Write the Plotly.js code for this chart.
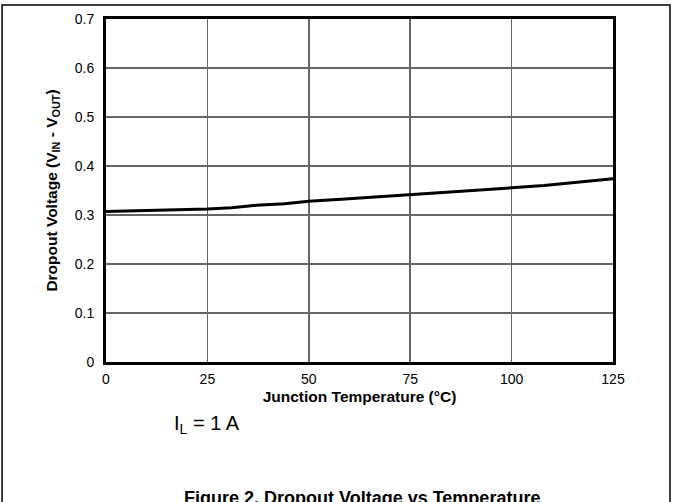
<!DOCTYPE html>
<html>
<head>
<meta charset="utf-8">
<script src="https://cdn.plot.ly/plotly-3.0.1.min.js"></script>
<style>html,body{margin:0;padding:0;background:#fff;}#chart{width:673px;height:502px;}</style>
</head>
<body>
<div id="chart"></div>
<script>
// Data
const temps = [0, 12, 25, 31, 37, 44, 50, 58, 67, 75, 88, 100, 108, 125];
const vdrop = [0.307, 0.309, 0.312, 0.315, 0.320, 0.323, 0.328, 0.332, 0.337, 0.341, 0.348, 0.356, 0.360, 0.374];
const xTicks = [0, 25, 50, 75, 100, 125];
const yTicks = [0, 0.1, 0.2, 0.3, 0.4, 0.5, 0.6, 0.7];
const yTickText = ['0', '0.1', '0.2', '0.3', '0.4', '0.5', '0.6', '0.7'];

const FONT = '"Liberation Sans", Arial, Helvetica, sans-serif';

const trace = {
  x: temps, y: vdrop, type: 'scatter', mode: 'lines',
  line: {color: '#000', width: 3}, hoverinfo: 'skip'
};

const layout = {
  width: 673, height: 502,
  margin: {l: 106, r: 60, t: 19, b: 140, pad: 0},
  paper_bgcolor: '#fff', plot_bgcolor: '#fff',
  showlegend: false,
  font: {family: FONT, color: '#000', size: 14},
  xaxis: {
    range: [0, 125], tickvals: xTicks, ticks: '', ticklabelstandoff: 2,
    showgrid: true, gridcolor: '#666', gridwidth: 1.5, zeroline: false,
    showline: true, linecolor: '#000', linewidth: 3, mirror: true,
    tickfont: {size: 14, family: FONT},
    title: {text: 'Junction Temperature (°C)', font: {size: 15.5, family: FONT, weight: 'bold'}, standoff: 6},
    fixedrange: true
  },
  yaxis: {
    range: [0, 0.7], tickvals: yTicks, ticktext: yTickText, ticks: '', ticklabelstandoff: 6,
    showgrid: true, gridcolor: '#666', gridwidth: 1.5, zeroline: false,
    showline: true, linecolor: '#000', linewidth: 3, mirror: true,
    tickfont: {size: 14, family: FONT},
    title: {text: 'Dropout Voltage (V<sub>IN</sub> - V<sub>OUT</sub>)', font: {size: 15.5, family: FONT, weight: 'bold'}, standoff: 14},
    fixedrange: true
  },
  shapes: [{
    type: 'rect', xref: 'paper', yref: 'paper',
    x0: -0.205, x1: 1.1124, y0: -0.55, y1: 1.0408,
    line: {color: '#000', width: 1.5}, layer: 'above'
  }],
  annotations: [
    {
      text: 'I<sub>L</sub> = 1 A', xref: 'paper', yref: 'paper',
      x: 0.2, y: -0.182, xanchor: 'center', yanchor: 'middle', showarrow: false,
      font: {size: 20, family: FONT, color: '#000'}
    },
    {
      text: 'Figure 2. Dropout Voltage vs Temperature', xref: 'paper', yref: 'paper',
      x: 0.505, y: -0.3615, xanchor: 'center', yanchor: 'top', showarrow: false,
      font: {size: 18, family: FONT, color: '#000', weight: 'bold'}
    }
  ]
};

Plotly.newPlot('chart', [trace], layout, {staticPlot: true, displayModeBar: false});
</script>
</body>
</html>
